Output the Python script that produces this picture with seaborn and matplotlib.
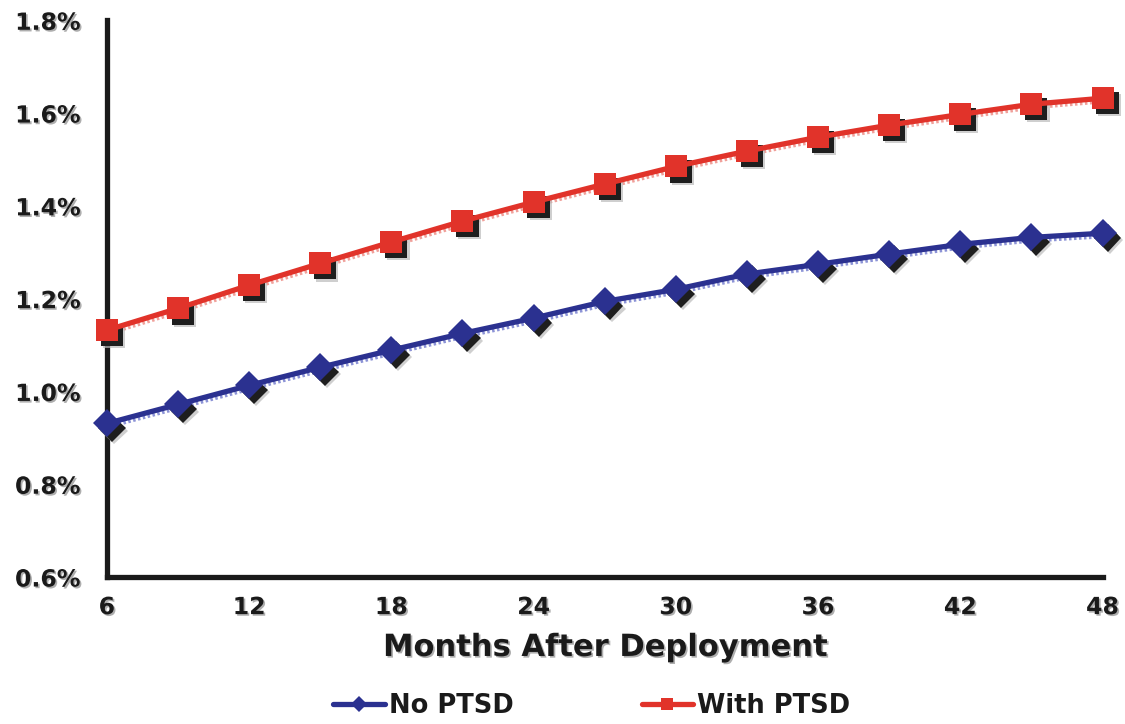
import matplotlib
matplotlib.use("Agg")
import matplotlib.pyplot as plt
import matplotlib.patheffects as pe
import matplotlib.transforms as mtransforms
from matplotlib.ticker import FuncFormatter
import numpy as np
import pandas as pd
import seaborn as sns

# Cumulative rate (%) by months after deployment
months = [6, 9, 12, 15, 18, 21, 24, 27, 30, 33, 36, 39, 42, 45, 48]
no_ptsd = [0.931, 0.972, 1.013, 1.052, 1.089, 1.125, 1.158, 1.194, 1.220,
           1.253, 1.274, 1.296, 1.317, 1.332, 1.341]
with_ptsd = [1.132, 1.179, 1.229, 1.276, 1.322, 1.367, 1.408, 1.447, 1.485,
             1.518, 1.548, 1.574, 1.597, 1.619, 1.632]
series_names = ["No PTSD", "With PTSD"]
x_ticks = [6, 12, 18, 24, 30, 36, 42, 48]
y_ticks = [0.6, 0.8, 1.0, 1.2, 1.4, 1.6, 1.8]

df = pd.DataFrame({
    "month": months * 2,
    "rate": no_ptsd + with_ptsd,
    "group": [series_names[0]] * len(months) + [series_names[1]] * len(months),
})

colors = {"No PTSD": "#2B3190", "With PTSD": "#E1332A"}
light = {"No PTSD": "#8C93D6", "With PTSD": "#F0A09A"}
markers = {"No PTSD": "D", "With PTSD": "s"}
msize = {"No PTSD": 14, "With PTSD": 16}

sns.set_theme(style="white")
plt.rcParams["font.family"] = ["DejaVu Sans"]
plt.rcParams["font.weight"] = "bold"

fig = plt.figure(figsize=(11.25, 7.24), dpi=100)
ax = fig.add_axes([0.095, 0.203, 0.885, 0.769])

text_shadow = [pe.withSimplePatchShadow(offset=(1.2, -1.2), shadow_rgbFace="#9a9a9a", alpha=0.8)]

for name in series_names:
    sub = df[df["group"] == name]
    # soft dotted shadow under the line
    line_off = ax.transData + mtransforms.ScaledTranslation(2 / 100, -3 / 100, fig.dpi_scale_trans)
    sns.lineplot(data=sub, x="month", y="rate", ax=ax, color=light[name],
                 linewidth=3, linestyle=(0, (0.6, 0.6)), transform=line_off,
                 legend=False, clip_on=False, zorder=2)
    # dark drop shadow of the markers
    mk_off = ax.transData + mtransforms.ScaledTranslation(5 / 100, -5 / 100, fig.dpi_scale_trans)
    sns.lineplot(data=sub, x="month", y="rate", ax=ax, color="#1e1e1e",
                 linestyle="", marker=markers[name], markersize=msize[name],
                 markeredgewidth=0, transform=mk_off, legend=False,
                 clip_on=False, zorder=3,
                 path_effects=[pe.SimplePatchShadow(offset=(1.5, -1.5), shadow_rgbFace="#bbbbbb", alpha=0.7), pe.Normal()])
    # the series itself
    sns.lineplot(data=sub, x="month", y="rate", ax=ax, color=colors[name],
                 linewidth=3.8, marker=markers[name], markersize=msize[name],
                 markeredgewidth=0, label=name, clip_on=False, zorder=4)

ax.set_xlim(6, 48)
ax.set_ylim(0.6, 1.8)
ax.set_xticks(x_ticks)
ax.set_yticks(y_ticks)
ax.yaxis.set_major_formatter(FuncFormatter(lambda v, p: f"{v:.1f}%"))

for s in ["top", "right"]:
    ax.spines[s].set_visible(False)
for s in ["left", "bottom"]:
    ax.spines[s].set_linewidth(3.8)
    ax.spines[s].set_color("#1a1a1a")
    ax.spines[s].set_zorder(1)

ax.tick_params(axis="both", which="major", direction="out", length=5, width=3,
               color="#1a1a1a", labelsize=17, labelcolor="#1a1a1a")
ax.tick_params(axis="y", pad=14)
ax.tick_params(axis="x", pad=8)
ax.grid(False)
for lbl in ax.get_xticklabels() + ax.get_yticklabels():
    lbl.set_fontweight("bold")
    lbl.set_path_effects(text_shadow)

ax.set_xlabel("Months After Deployment", fontsize=22, fontweight="bold",
              color="#1a1a1a", labelpad=10, path_effects=text_shadow)
ax.set_ylabel("")

handles, labels = ax.get_legend_handles_labels()
leg = ax.legend(handles, labels, loc="center", bbox_to_anchor=(0.487, -0.232),
                ncol=2, frameon=False, fontsize=18.5, handlelength=2.0,
                columnspacing=5.0, handletextpad=0.15, markerscale=0.55)
for t in leg.get_texts():
    t.set_fontweight("bold")
    t.set_color("#1a1a1a")

fig.savefig("out.png", dpi=100, facecolor="white")
